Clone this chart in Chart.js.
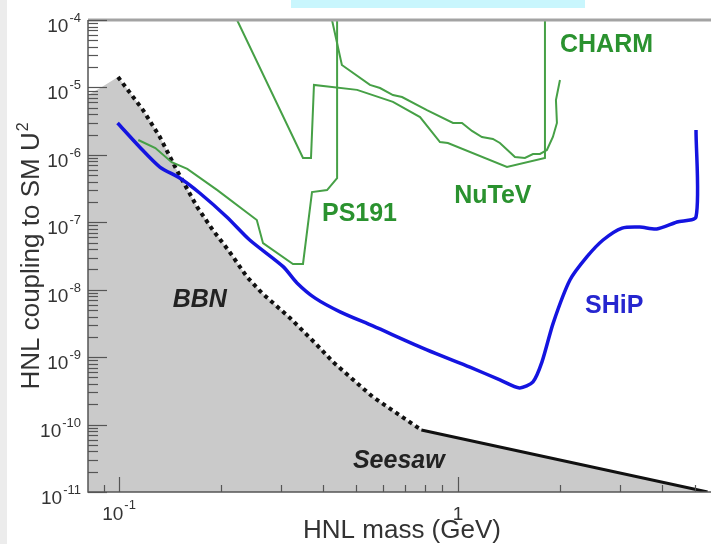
<!DOCTYPE html>
<html>
<head>
<meta charset="utf-8">
<script src="https://cdn.jsdelivr.net/npm/chart.js@4.4.1/dist/chart.umd.min.js"></script>
<style>
  html, body { margin: 0; padding: 0; background: #fff; }
  #wrap { width: 711px; height: 544px; }
</style>
</head>
<body>
<div id="wrap"><canvas id="chart" width="711" height="544"></canvas></div>
<script>
// HNL sensitivity plot: mass (GeV) vs coupling U^2, both log

// SHiP sensitivity curve
const shipMass = [0.099, 0.115, 0.132, 0.151, 0.173, 0.208, 0.243, 0.305, 0.335, 0.379, 0.449, 0.561, 0.810, 1.085, 1.33, 1.52, 1.665, 1.77, 1.91, 2.14, 2.40, 2.68, 3.05, 3.44, 3.86, 4.43, 5.04, 5.04];
const shipU2 = [2.97e-6, 1.31e-6, 6.6e-7, 4.54e-7, 2.72e-7, 1.20e-7, 5.46e-8, 2.2e-8, 1.26e-8, 7.5e-9, 4.7e-9, 2.9e-9, 1.28e-9, 7.1e-10, 4.6e-10, 3.5e-10, 4.3e-10, 8.5e-10, 3.2e-9, 1.39e-8, 3.06e-8, 5.46e-8, 8.2e-8, 8.5e-8, 7.95e-8, 1.01e-7, 1.20e-7, 2.34e-6];

// BBN bound (dashed) and the shaded edge left of its peak
const edgeMass = [0.081, 0.088];
const edgeU2 = [7.7e-6, 9.8e-6];
const bbnMass = [0.0993, 0.1177, 0.132, 0.148, 0.170, 0.189, 0.210, 0.2385, 0.264, 0.3195, 0.384, 0.428, 0.561, 0.78];
const bbnU2 = [1.43e-5, 4.62e-6, 1.84e-6, 5.96e-7, 1.69e-7, 7.69e-8, 3.88e-8, 1.55e-8, 8.93e-9, 3.81e-9, 1.51e-9, 8.47e-10, 2.56e-10, 8.3e-11];

// seesaw line
const seesawMass = [0.78, 5.45];
const seesawU2 = [8.3e-11, 1.0e-11];

// past experiments
const ps191Mass = [0.114, 0.128, 0.143, 0.159, 0.195, 0.255, 0.266, 0.326, 0.349, 0.371, 0.411, 0.440, 0.440];
const ps191U2 = [1.66e-6, 1.26e-6, 7.8e-7, 6.2e-7, 3.0e-7, 1.08e-7, 4.9e-8, 2.41e-8, 2.41e-8, 2.81e-7, 3.0e-7, 4.5e-7, 1e-4];

const charmMass = [0.223, 0.349, 0.3685, 0.376, 0.504, 0.643, 0.773, 0.885, 0.934, 1.395, 1.806, 1.806];
const charmU2 = [1e-4, 9.0e-7, 9.0e-7, 1.09e-5, 9.2e-6, 6.1e-6, 3.64e-6, 1.55e-6, 1.50e-6, 6.6e-7, 9.0e-7, 1e-4];

const nutevMass = [0.425, 0.4545, 0.550, 0.589, 0.643, 0.684, 0.810, 0.967, 1.028, 1.100, 1.177, 1.268, 1.330, 1.473, 1.576, 1.665, 1.746, 1.830, 1.906, 1.959, 1.946, 2.0];
const nutevU2 = [1e-4, 2.15e-5, 1.09e-5, 9.8e-6, 7.7e-6, 7.2e-6, 4.6e-6, 2.97e-6, 2.97e-6, 2.26e-6, 1.84e-6, 1.72e-6, 1.50e-6, 9.3e-7, 9.0e-7, 1.03e-6, 1.03e-6, 1.18e-6, 1.84e-6, 2.97e-6, 6.5e-6, 1.29e-5];

// axis ranges and tick labels
const xMin = 0.081, xMax = 5.58;
const yMin = 1e-11, yMax = 1e-4;
const yDecades = [-11, -10, -9, -8, -7, -6, -5, -4];
const xLabelTicks = [{ v: 0.1, base: '10', exp: '-1' }, { v: 1, base: '1', exp: '' }];

const FONT = '"Liberation Sans", Arial, sans-serif';

// text labels on the plot, anchored in data coords (left / baseline)
const regionLabels = [
  { text: 'CHARM', mass: 2.0, u2: 3.35e-5, color: '#2a922f', font: 'bold 25px ' + FONT },
  { text: 'PS191', mass: 0.397, u2: 1.05e-7, color: '#2a922f', font: 'bold 25px ' + FONT },
  { text: 'NuTeV', mass: 0.975, u2: 1.93e-7, color: '#2a922f', font: 'bold 25px ' + FONT },
  { text: 'SHiP', mass: 2.37, u2: 4.5e-9, color: '#2626cf', font: 'bold 25px ' + FONT },
  { text: 'BBN', mass: 0.144, u2: 5.5e-9, color: '#222', font: 'italic bold 25px ' + FONT },
  { text: 'Seesaw', mass: 0.49, u2: 2.27e-11, color: '#222', font: 'italic bold 25px ' + FONT }
];

const pts = (xs, ys) => xs.map((x, i) => ({ x: x, y: ys[i] }));

const greenLine = { borderColor: '#46a046', borderWidth: 2, pointRadius: 0, fill: false, tension: 0 };

const framePlugin = {
  id: 'frame',
  beforeDraw(chart) {
    const c = chart.ctx;
    c.save();
    c.fillStyle = '#fff';
    c.fillRect(0, 0, chart.width, chart.height);
    c.fillStyle = '#ececec';
    c.fillRect(0, 0, 7, chart.height);
    c.fillStyle = '#c9f6fd';
    c.fillRect(291, 0, 294, 8);
    c.restore();
  },
  afterDatasetsDraw(chart) {
    const c = chart.ctx;
    const ca = chart.chartArea;
    const xs = chart.scales.x, ys = chart.scales.y;
    c.save();

    // frame
    c.strokeStyle = '#a3a3a3';
    c.lineWidth = 3;
    c.beginPath(); c.moveTo(ca.left, ca.top); c.lineTo(ca.right, ca.top); c.stroke();
    c.strokeStyle = '#555';
    c.lineWidth = 1.5;
    c.beginPath(); c.moveTo(ca.left, ca.top); c.lineTo(ca.left, ca.bottom); c.lineTo(ca.right, ca.bottom); c.stroke();

    // y ticks (inward)
    c.lineWidth = 1.2;
    yDecades.forEach(n => {
      for (let k = 1; k <= 9; k++) {
        const v = k * Math.pow(10, n);
        if (v < yMin * 0.999 || v > yMax * 1.001) continue;
        const py = Math.round(ys.getPixelForValue(v)) + 0.5;
        const len = k === 1 ? 19 : 10;
        c.beginPath(); c.moveTo(ca.left, py); c.lineTo(ca.left + len, py); c.stroke();
      }
    });
    // x ticks
    [-2, -1, 0].forEach(n => {
      for (let k = 1; k <= 9; k++) {
        const v = k * Math.pow(10, n);
        if (v < xMin || v > xMax) continue;
        const px = Math.round(xs.getPixelForValue(v)) + 0.5;
        const len = k === 1 ? 15 : 7;
        c.beginPath(); c.moveTo(px, ca.bottom); c.lineTo(px, ca.bottom - len); c.stroke();
      }
    });

    // y tick labels
    c.fillStyle = '#333';
    c.textBaseline = 'alphabetic';
    yDecades.forEach(n => {
      const py = ys.getPixelForValue(Math.pow(10, n));
      const exp = String(n);
      c.font = '13px ' + FONT;
      const we = c.measureText(exp).width;
      c.textAlign = 'right';
      c.fillText(exp, 81, py + 2);
      c.font = '19px ' + FONT;
      c.fillText('10', 81 - we - 1, py + 12);
    });

    // x tick labels
    xLabelTicks.forEach(t => {
      const px = xs.getPixelForValue(t.v);
      c.font = '19px ' + FONT;
      const wb = c.measureText(t.base).width;
      c.font = '13px ' + FONT;
      const we = t.exp ? c.measureText(t.exp).width + 1 : 0;
      const x0 = px - (wb + we) / 2;
      c.textAlign = 'left';
      c.font = '19px ' + FONT;
      c.fillText(t.base, x0, 520);
      if (t.exp) {
        c.font = '13px ' + FONT;
        c.fillText(t.exp, x0 + wb + 1, 509);
      }
    });

    // axis titles
    c.fillStyle = '#333';
    c.font = '26px ' + FONT;
    c.textAlign = 'center';
    c.fillText('HNL mass (GeV)', 402, 538);

    c.save();
    c.translate(39, 256);
    c.rotate(-Math.PI / 2);
    const main = 'HNL coupling to SM U';
    c.font = '26px ' + FONT;
    const wm = c.measureText(main).width;
    c.font = '16px ' + FONT;
    const ws = c.measureText('2').width;
    const start = -(wm + ws + 1) / 2;
    c.textAlign = 'left';
    c.font = '26px ' + FONT;
    c.fillText(main, start, 0);
    c.font = '16px ' + FONT;
    c.fillText('2', start + wm + 1, -11);
    c.restore();

    // region labels
    regionLabels.forEach(l => {
      c.font = l.font;
      c.fillStyle = l.color;
      c.textAlign = 'left';
      c.fillText(l.text, xs.getPixelForValue(l.mass), ys.getPixelForValue(l.u2));
    });

    c.restore();
  }
};

const ctx = document.getElementById('chart').getContext('2d');
new Chart(ctx, {
  type: 'line',
  data: {
    datasets: [
      {
        label: 'SHiP',
        data: pts(shipMass, shipU2),
        borderColor: '#1414e0',
        borderWidth: 3.5,
        pointRadius: 0,
        fill: false,
        tension: 0.25,
        order: 1
      },
      Object.assign({ label: 'PS191', data: pts(ps191Mass, ps191U2), order: 2 }, greenLine),
      Object.assign({ label: 'CHARM', data: pts(charmMass, charmU2), order: 2 }, greenLine),
      Object.assign({ label: 'NuTeV', data: pts(nutevMass, nutevU2), order: 2 }, greenLine),
      {
        label: 'BBN',
        data: pts(bbnMass, bbnU2),
        borderColor: '#111',
        borderWidth: 4,
        borderDash: [4, 4],
        pointRadius: 0,
        fill: false,
        tension: 0,
        order: 3
      },
      {
        label: 'Seesaw',
        data: pts(seesawMass, seesawU2),
        borderColor: '#111',
        borderWidth: 3,
        pointRadius: 0,
        fill: false,
        tension: 0,
        order: 3
      },
      {
        label: 'excluded',
        data: pts(edgeMass.concat(bbnMass, seesawMass.slice(1)), edgeU2.concat(bbnU2, seesawU2.slice(1))),
        borderWidth: 0,
        borderColor: 'rgba(0,0,0,0)',
        backgroundColor: '#cacaca',
        pointRadius: 0,
        fill: 'start',
        tension: 0,
        order: 4
      }
    ]
  },
  options: {
    responsive: false,
    devicePixelRatio: 1,
    animation: false,
    layout: { padding: { left: 88, right: 0, top: 20, bottom: 52 } },
    plugins: {
      legend: { display: false },
      tooltip: { enabled: false }
    },
    scales: {
      x: { type: 'logarithmic', min: xMin, max: xMax, display: false },
      y: { type: 'logarithmic', min: yMin, max: yMax, display: false }
    }
  },
  plugins: [framePlugin]
});
</script>
</body>
</html>
